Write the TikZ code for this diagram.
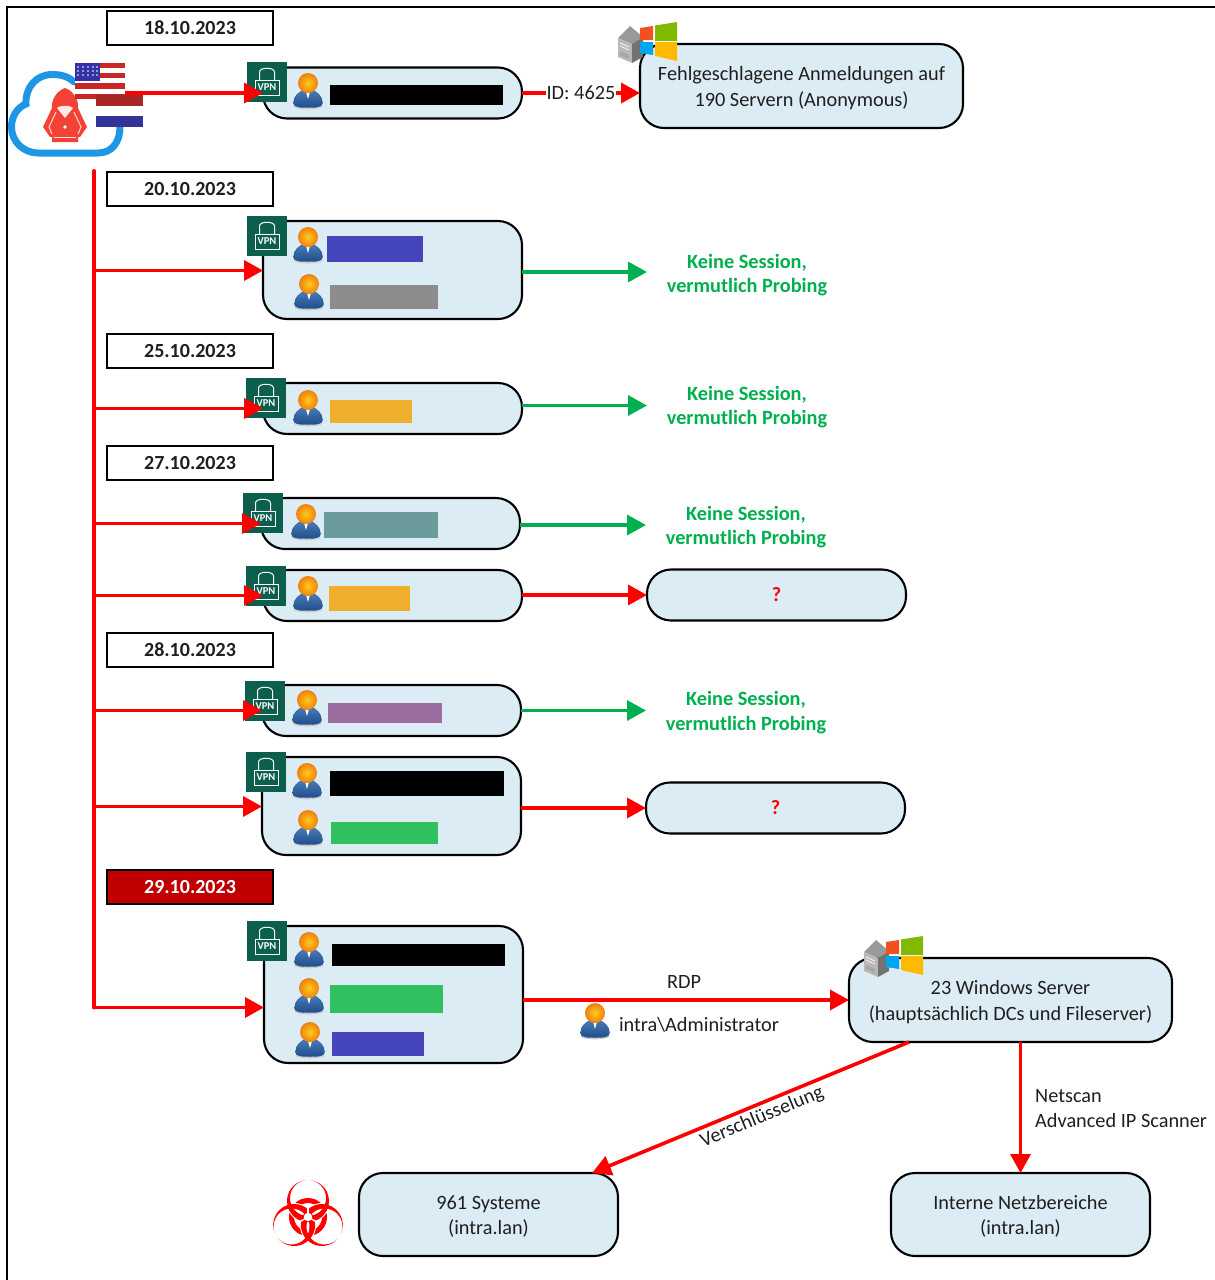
\documentclass[tikz,border=0pt]{standalone}
\usepackage{fontspec}
\setmainfont{Carlito}
\usetikzlibrary{arrows.meta,calc}
\definecolor{boxfill}{HTML}{DBECF4}
\definecolor{vpngreen}{HTML}{0B5F4C}
\definecolor{okgreen}{HTML}{00B050}
\definecolor{cloudblue}{HTML}{1E96E6}
\definecolor{hackred}{HTML}{F44336}
\definecolor{darkred}{HTML}{C00000}
\definecolor{rblue}{HTML}{4444BB}
\definecolor{rgrey}{HTML}{8C8C8C}
\definecolor{rorange}{HTML}{EEB02C}
\definecolor{rteal}{HTML}{6A9A9A}
\definecolor{rpurple}{HTML}{9C6CA0}
\definecolor{rgreen}{HTML}{30C060}
\definecolor{winred}{HTML}{F25022}
\definecolor{wingreen}{HTML}{7FBA00}
\definecolor{winblue}{HTML}{00A4EF}
\definecolor{winyellow}{HTML}{FFB900}
\definecolor{suittop}{HTML}{4A7DB8}
\definecolor{suitbot}{HTML}{1F4E8C}
\newcommand\fs[1]{\fontsize{#1}{#1}\selectfont}
\newcommand\dn{\rule{0pt}{18pt}}
\tikzset{
  rbox/.style={draw=black,line width=2.1pt,fill=boxfill,rounded corners=24pt,inner sep=0pt,outer sep=0pt,align=center,text=black!88,font=\fs{20.3}},
  small/.style={minimum width=259pt,minimum height=51pt},
  datebox/.style={draw=black,line width=2.4pt,fill=white,minimum width=166pt,minimum height=34pt,inner sep=0pt,outer sep=0pt,font=\bfseries\fs{20},text=black!88},
  redarrow/.style={draw=red,line width=3.6pt,-{Triangle[length=19pt,width=20pt]}},
  greenarrow/.style={draw=okgreen,line width=3.4pt,-{Triangle[length=19pt,width=20pt]}},
  redline/.style={draw=red,line width=3.5pt},
  vpnbox/.style={fill=vpngreen,minimum width=40pt,minimum height=40pt,inner sep=0pt,outer sep=0pt},
  vpntext/.style={text=white,font=\bfseries\fs{10.5},inner sep=0pt},
  probing/.style={text=okgreen,font=\bfseries\fs{20.3},align=center,inner sep=0pt},
  plain/.style={text=black!88,font=\fs{20.3},align=left,inner sep=0pt},
}
% name, x, y (centre)
\newcommand\vpnicon[3]{%
  \node[vpnbox] (#1) at (#2,#3) {};
  \begin{scope}[shift={(#2,#3)}]
    \draw[white,line width=1pt] (-7.5,-2) -- (-7.5,-10) .. controls (-7.5,-15) and (7.5,-15) .. (7.5,-10) -- (7.5,-2);
    \draw[white,line width=1pt] (-12,-2) rectangle (12,13);
  \end{scope}
  \node[vpntext] (#1t) at (#2,#3+5.5) {VPN};
}
\newcommand\usericon[2]{%
  \begin{scope}[shift={(#1,#2)}]
    \fill[black!20] (0,16.5) ellipse (14.5 and 2.8);
    \path[top color=suittop,bottom color=suitbot,draw=suitbot,line width=.3pt]
      (-14.5,13) .. controls (-14.5,6) and (-9,2) .. (-4,0) -- (4,0) .. controls (9,2) and (14.5,6) .. (14.5,13)
      .. controls (14.5,17) and (9,17.5) .. (0,17.5) .. controls (-9,17.5) and (-14.5,17) .. (-14.5,13) -- cycle;
    \fill[white] (-2.5,0) -- (2.5,0) -- (0,9) -- cycle;
    \shade[inner color=orange!45!yellow!90!white,outer color=orange!75!brown] (0,-7) circle (10);
  \end{scope}
}
\newcommand\winserver[2]{%
  \begin{scope}[shift={(#1,#2)}]
    \fill[black!40] (0,16) -- (12,4) -- (25,15) -- (14,22) -- cycle;
    \fill[black!28] (0,16) -- (14,22) -- (14,41) -- (0,35) -- cycle;
    \fill[black!55] (14,22) -- (25,15) -- (25,35) -- (14,41) -- cycle;
    \draw[white,line width=.7pt] (2,21) -- (11,25) (2,24) -- (11,28);
    \fill[black!35] (2,29) -- (11,33) -- (11,37) -- (2,33) -- cycle;
    \fill[winred] (22,6) -- (35,4) -- (35,18) -- (22,18) -- cycle;
    \fill[wingreen] (37,3.5) -- (59,0) -- (59,19) -- (37,19) -- cycle;
    \fill[winblue] (22,20) -- (35,20) -- (35,33) -- (22,31) -- cycle;
    \fill[winyellow] (37,20) -- (59,20) -- (59,39) -- (37,34) -- cycle;
  \end{scope}
}
\newcommand\biopath{(3,36.78) arc[start angle=81.8,end angle=-261.8,radius=21]
     arc[start angle=99.58,end angle=440.42,radius=18.03] -- cycle}
\begin{document}
\begin{tikzpicture}[x=1pt,y=-1pt]
\useasboundingbox (0,0) rectangle (1215,1280);
\draw[black,line width=2pt] (7,1280) -- (7,7) -- (1215,7);

% cloud + hacker
\draw[cloudblue,line width=7pt,line cap=round]
  (74,82) .. controls (68,76) and (60,74.5) .. (52,74.5)
  .. controls (36,74.5) and (25,88) .. (26,104)
  .. controls (16,108) and (11.5,118) .. (11.5,127)
  .. controls (11.5,142) and (24,153) .. (38,153) -- (98,153)
  .. controls (112,153) and (120,142) .. (120,127);
\fill[hackred] (65,88) .. controls (72,90) and (79,99) .. (78,108)
  -- (87,127) -- (80,137) -- (78,137) -- (78,142) -- (52,142) -- (52,137) -- (50,137) -- (43,127) -- (52,108)
  .. controls (51,99) and (58,90) .. (65,88) -- cycle;
\fill[white!88!hackred] (57,108) .. controls (60,105) and (70,105) .. (73,108) -- (65,118) -- cycle;
\draw[white!85!hackred,line width=.9pt] (56,112) -- (49,127) -- (52,134) (74,112) -- (81,127) -- (78,134);
\fill[white] (65,127) circle (1.8);
\fill[white!85!hackred] (54,136.5) rectangle (76,138);

% flags
\fill[white] (75,63) rectangle (125,96);
\foreach \s in {0,2,4,6}{\fill[red!75!black!85] (75,{63+\s*5.1}) rectangle (125,{63+(\s+1)*5.1});}
\fill[blue!55!black!80] (75,63) rectangle (100,81);
\foreach \a in {78,83,88,93,97}{\foreach \b in {67,71,75}{\fill[white] (\a,\b) circle (.8);}}
\fill[white] (96,95) rectangle (143,127);
\fill[red!60!black!85] (96,95) rectangle (143,105.5);
\fill[blue!50!black!80] (96,116) rectangle (143,127);

% dates
\node[datebox] (d1) at (190,28) {18.10.2023};
\node[datebox] (d2) at (190,189) {20.10.2023};
\node[datebox] (d3) at (190,351) {25.10.2023};
\node[datebox] (d4) at (190,463) {27.10.2023};
\node[datebox] (d5) at (190,650) {28.10.2023};
\node[datebox,fill=darkred,text=white] (d6) at (190,887) {29.10.2023};

% source boxes
\node[rbox,small] (b1) at (392.5,93) {};
\node[rbox,minimum width=259pt,minimum height=98pt] (b2) at (392.5,270) {};
\node[rbox,small] (b3) at (392.5,408.5) {};
\node[rbox,small] (b4) at (390.5,523.5) {};
\node[rbox,small] (b5) at (392.5,595.5) {};
\node[rbox,small] (b6) at (391.5,710.5) {};
\node[rbox,minimum width=259pt,minimum height=98pt] (b7) at (391.5,806) {};
\node[rbox,minimum width=259pt,minimum height=137pt] (b8) at (393.5,994.5) {};

% target boxes
\node[rbox,minimum width=323pt,minimum height=84pt] (fail) at (801.5,86) {\dn Fehlgeschlagene Anmeldungen auf\\[5pt]190 Servern (Anonymous)};
\node[rbox,small] (q1) at (776.5,595) {\textbf{\textcolor{red}{?}}};
\node[rbox,small] (q2) at (775.5,808) {\textbf{\textcolor{red}{?}}};
\node[rbox,minimum width=323pt,minimum height=84pt] (win) at (1010.5,1000) {\dn 23 Windows Server\\[5pt](hauptsächlich DCs und Fileserver)};
\node[rbox,minimum width=259pt,minimum height=83pt] (sys) at (488.5,1214.5) {\dn 961 Systeme\\[5pt](intra.lan)};
\node[rbox,minimum width=259pt,minimum height=83pt] (intern) at (1020.5,1214.5) {\dn Interne Netzbereiche\\[5pt](intra.lan)};

% redaction bars
\fill[black] (330,85) rectangle (503,105);
\fill[rblue] (327,236) rectangle (423,262);
\fill[rgrey] (330,285) rectangle (438,309);
\fill[rorange] (330,400) rectangle (412,423);
\fill[rteal] (324,512) rectangle (438,538);
\fill[rorange] (329,586) rectangle (410,611);
\fill[rpurple] (328,703) rectangle (442,723);
\fill[black] (330,771) rectangle (504,796);
\fill[rgreen] (331,822) rectangle (438,844);
\fill[black] (332,944) rectangle (505,966);
\fill[rgreen] (330,985) rectangle (443,1013);
\fill[rblue] (332,1032) rectangle (424,1056);

% users
\usericon{308}{90}
\usericon{308}{244}
\usericon{309}{291}
\usericon{308}{407}
\usericon{306}{521}
\usericon{308}{593}
\usericon{307}{707}
\usericon{307}{780}
\usericon{308}{827}
\usericon{309}{949}
\usericon{309}{995}
\usericon{310}{1039}
\usericon{595}{1020}

% VPN
\vpnicon{v1}{267}{82}
\vpnicon{v2}{267}{236}
\vpnicon{v3}{266}{398}
\vpnicon{v4}{263}{513}
\vpnicon{v5}{266}{586}
\vpnicon{v6}{265}{701}
\vpnicon{v7}{266}{772}
\vpnicon{v8}{267}{941}

% servers
\winserver{618}{22}
\winserver{864}{936}

% biohazard
\begin{scope}[shift={(308,1217)},yscale=-1]
  \draw[red,line width=5pt] (0,0) circle (16.5);
  \foreach \r in {0,120,240}{\draw[white,line width=2pt,rotate=\r] \biopath;}
  \foreach \r in {0,120,240}{\fill[red,rotate=\r] \biopath;}
  \foreach \a in {90,210,330}{\draw[white,line width=1.4pt] (0,0) -- (\a:11);}
  \fill[white] (0,0) circle (4.2);
\end{scope}

% trunk
\coordinate (flag) at (125,93);
\coordinate (top) at (94,171);
\coordinate (j2) at (94,270.5);
\coordinate (j3) at (94,408.5);
\coordinate (j4) at (94,523.5);
\coordinate (j5) at (94,595.5);
\coordinate (j6) at (94,710.5);
\coordinate (j7) at (94,806.5);
\coordinate (j8) at (94,1007.5);
\draw[redline,line width=4pt,line cap=round,line join=round] (top) -- (j8);
\draw[redarrow] (flag) -- (flag -| b1.west);
\foreach \n in {2,...,8}{\draw[redarrow] (j\n) -- (j\n -| b\n.west);}

% outputs
\draw[redarrow] (b1.east) -- (b1.east -| fail.west) node[midway,fill=white,inner sep=1pt,xshift=0pt,text=black!88,font=\fs{20.3}] (id) {ID: 4625};
\coordinate (g2) at (647,272);
\coordinate (g3) at (647,405.5);
\coordinate (g4) at (646,525);
\coordinate (g6) at (646,710.5);
\draw[greenarrow] (g2 -| b2.east) -- (g2);
\draw[greenarrow] (g3 -| b3.east) -- (g3);
\draw[greenarrow] (g4 -| b4.east) -- (g4);
\draw[greenarrow] (g6 -| b6.east) -- (g6);
\draw[redarrow] (q1.west -| b5.east) -- (q1.west);
\draw[redarrow] (q2.west -| b7.east) -- (q2.west);
\coordinate (rdpy) at (0,1000);
\draw[redarrow] (rdpy -| b8.east) -- (rdpy -| win.west);
\draw[redarrow] ($(win.south)+(-101.5,0)$) -- ($(sys.north)+(103.5,0)$);
\draw[redarrow] (intern.north |- win.south) -- (intern.north);

% labels
\node[probing] (p2) at (747,275) {Keine Session,\\[4pt]vermutlich Probing};
\node[probing] (p3) at (747,407) {Keine Session,\\[4pt]vermutlich Probing};
\node[probing] (p4) at (746,527) {Keine Session,\\[4pt]vermutlich Probing};
\node[probing] (p6) at (746,712.5) {Keine Session,\\[4pt]vermutlich Probing};
\node[plain] (rdp) at (684,982) {RDP};
\node[plain] (adm) at (699,1025) {intra\textbackslash Administrator};
\node[plain,anchor=west] (net) at (1035,1108.5) {Netscan\\[5pt]Advanced IP Scanner};
\node[plain,rotate=22.5] (enc) at (762,1117) {Verschlüsselung};
\end{tikzpicture}
\end{document}
